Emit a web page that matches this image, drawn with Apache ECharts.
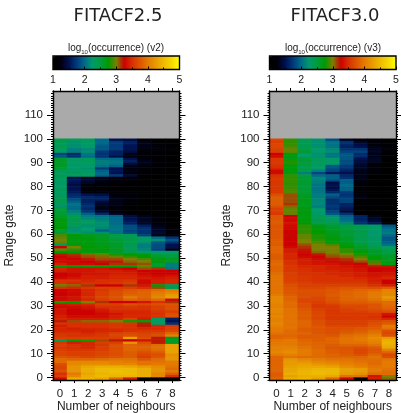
<!DOCTYPE html>
<html>
<head>
<meta charset="utf-8">
<style>html,body{margin:0;padding:0;background:#fff}#c{width:401px;height:413px}</style>
<script src="https://cdn.jsdelivr.net/npm/echarts@6/dist/echarts.min.js"></script>
</head>
<body>
<div id="c"></div>
<script>
var neighbours = ['0','1','2','3','4','5','6','7','8'];
var panelTitles = ['FITACF2.5','FITACF3.0'];
var barTags = ['(v2)','(v3)'];
var barTicks = [1,2,3,4,5];
var rangeTicks = [0,10,20,30,40,50,60,70,80,90,100,110];
/* log10(occurrence), rows from gate 99 down to the lowest row (-1) */
var fitacf25 = [
[2.45,2.35,2.35,2.0,1.5,1.45,1.2,1.1,1.05],
[2.4,2.2,2.3,2.0,1.75,1.6,1.3,1.1,1.05],
[2.35,2.2,2.3,1.95,1.75,1.55,1.3,1.15,1.05],
[2.4,2.2,2.25,1.9,1.75,1.5,1.3,1.2,1.05],
[2.35,2.1,2.15,1.9,1.75,1.5,1.25,1.2,1.05],
[2.3,2.1,2.2,1.75,1.6,1.45,1.2,1.1,1.05],
[1.8,1.65,2.05,1.7,1.6,1.3,1.2,1.1,1.05],
[1.9,1.7,2.0,1.7,1.45,1.2,1.15,1.05,1.03],
[2.6,2.3,2.35,2.0,2.0,1.5,1.25,1.1,1.05],
[2.6,2.3,2.35,2.1,2.05,1.6,1.3,1.15,1.05],
[2.6,2.3,2.3,2.1,2.05,1.45,1.3,1.15,1.05],
[2.6,2.25,2.25,2.05,1.95,1.3,1.25,1.1,1.05],
[2.55,2.25,2.2,1.75,1.5,1.25,1.1,1.05,1.03],
[2.4,2.3,2.3,1.95,1.55,1.3,1.1,1.05,1.03],
[2.3,2.4,2.3,2.0,1.5,1.25,1.15,1.05,1.03],
[2.45,2.3,2.3,1.95,1.75,1.4,1.1,1.05,1.03],
[2.3,1.5,1.35,1.3,1.2,1.15,1.05,1.03,1.02],
[2.3,1.55,1.4,1.3,1.2,1.15,1.05,1.03,1.02],
[2.3,1.5,1.35,1.25,1.15,1.1,1.05,1.02,1.02],
[2.3,1.45,1.2,1.2,1.1,1.1,1.03,1.02,1.02],
[2.3,1.5,1.2,1.15,1.1,1.05,1.03,1.02,1.02],
[2.35,1.5,1.2,1.15,1.1,1.05,1.02,1.02,1.02],
[2.3,1.55,1.25,1.2,1.15,1.1,1.03,1.02,1.02],
[2.35,1.65,1.5,1.45,1.25,1.2,1.03,1.02,1.02],
[2.35,1.7,1.65,1.6,1.25,1.25,1.03,1.02,1.02],
[2.4,1.85,1.6,1.6,1.3,1.25,1.03,1.02,1.02],
[2.4,1.95,1.6,1.4,1.3,1.15,1.03,1.02,1.02],
[2.4,2.05,1.65,1.35,1.3,1.1,1.03,1.02,1.02],
[2.2,2.0,1.7,1.3,1.25,1.1,1.03,1.02,1.02],
[2.5,2.0,1.65,1.3,1.2,1.05,1.03,1.02,1.02],
[2.55,2.1,1.7,1.35,1.2,1.05,1.03,1.02,1.02],
[2.55,2.2,1.95,1.65,1.35,1.15,1.05,1.03,1.02],
[2.6,2.4,2.1,2.05,1.95,1.45,1.3,1.15,1.03],
[2.7,2.4,2.15,2.1,2.0,1.5,1.35,1.2,1.05],
[2.7,2.4,2.3,2.15,2.0,1.55,1.35,1.2,1.05],
[2.7,2.4,2.3,2.2,2.0,1.6,1.35,1.2,1.05],
[2.7,2.35,2.2,2.2,2.05,1.85,1.6,1.3,1.1],
[2.75,2.2,2.25,2.15,2.05,1.85,1.7,1.35,1.15],
[2.55,2.2,2.25,1.95,2.05,1.8,1.7,1.35,1.2],
[2.55,2.25,2.2,2.2,2.05,1.85,1.7,1.4,1.2],
[2.9,2.75,2.65,2.6,2.45,2.4,1.8,1.3,1.15],
[2.95,2.7,2.7,2.6,2.5,2.4,2.3,2.0,1.7],
[3.0,2.7,2.7,2.65,2.55,2.45,2.3,2.2,1.9],
[2.95,2.7,2.7,2.65,2.55,2.45,2.2,1.9,1.7],
[2.4,2.7,2.7,2.65,2.6,2.4,2.1,1.85,1.5],
[3.25,3.0,2.75,2.7,2.6,2.35,2.1,1.85,1.5],
[2.95,2.85,2.7,2.7,2.6,2.4,2.15,1.8,1.3],
[2.75,2.7,2.7,2.7,2.6,2.45,2.3,2.3,2.25],
[3.2,3.15,3.05,2.95,2.8,2.75,2.7,2.5,2.45],
[3.25,3.2,3.1,3.05,2.95,2.85,2.75,2.55,2.5],
[3.3,3.25,3.2,3.1,3.1,3.0,2.9,2.7,2.6],
[3.3,3.3,3.25,3.2,3.2,3.05,3.0,2.7,2.6],
[3.4,3.3,3.3,3.25,3.15,3.15,3.1,2.55,2.1],
[2.7,2.75,2.7,2.75,2.7,2.7,2.95,2.6,2.1],
[3.45,3.35,3.35,3.35,3.3,3.25,3.1,3.15,2.05],
[3.4,3.35,3.35,3.4,3.4,3.35,3.25,3.25,3.25],
[3.25,3.3,3.35,3.35,3.4,3.4,3.3,3.25,3.25],
[3.25,3.3,3.4,3.4,3.45,3.45,3.35,3.3,3.35],
[3.3,3.35,3.4,3.4,3.45,3.45,3.4,3.35,3.4],
[3.5,3.5,3.45,3.5,3.5,3.55,3.3,3.4,3.45],
[3.5,3.45,3.5,3.5,3.55,3.6,3.3,3.4,3.45],
[2.95,3.05,3.15,3.25,3.25,3.15,3.35,2.7,2.35],
[3.5,3.45,3.55,3.6,3.6,3.6,3.5,3.1,2.4],
[3.25,3.3,3.45,3.55,3.65,3.75,3.8,3.9,4.0],
[3.25,3.3,3.45,3.6,3.7,3.8,3.85,4.0,4.1],
[3.25,3.3,3.45,3.6,3.7,3.85,3.85,4.05,4.25],
[3.3,3.35,3.5,3.65,3.75,4.0,3.85,4.1,4.3],
[3.3,3.35,3.45,3.6,3.7,3.85,3.8,3.9,3.3],
[2.8,2.75,3.0,3.15,3.25,3.25,3.35,3.5,3.15],
[3.35,3.4,3.45,3.6,3.6,3.7,3.65,3.7,3.75],
[3.3,3.3,3.35,3.5,3.5,3.55,3.5,3.6,3.7],
[3.35,3.25,3.3,3.4,3.5,3.5,3.5,3.6,3.7],
[3.35,3.25,3.25,3.35,3.45,3.45,3.45,3.55,3.6],
[3.35,3.25,3.25,3.3,3.35,3.45,3.45,3.5,3.7],
[3.4,3.3,3.3,3.3,3.4,3.45,3.45,3.5,3.7],
[3.45,3.4,3.4,3.4,3.45,3.6,3.4,2.3,1.6],
[3.2,3.1,3.05,3.05,3.0,2.8,2.7,2.3,1.5],
[3.5,3.5,3.5,3.5,3.55,3.55,3.2,2.3,1.7],
[3.4,3.5,3.5,3.5,3.55,3.5,3.2,3.45,3.55],
[3.45,3.4,3.45,3.45,3.5,3.5,3.45,3.45,3.6],
[3.45,3.45,3.4,3.45,3.45,3.5,3.55,3.55,3.65],
[3.5,3.5,3.45,3.5,3.6,3.65,3.6,3.65,3.85],
[3.55,3.5,3.5,3.55,3.65,3.7,3.65,3.7,4.05],
[3.6,3.6,3.6,3.6,3.6,4.3,3.7,3.2,2.6],
[2.35,2.7,2.8,3.1,3.2,3.25,3.35,3.2,2.6],
[3.55,3.4,3.45,3.6,3.6,4.2,3.7,3.2,2.6],
[3.6,3.5,3.45,3.55,3.7,3.85,3.8,3.9,4.3],
[3.55,3.5,3.45,3.6,3.7,3.85,3.85,3.95,4.3],
[3.6,3.55,3.55,3.6,3.7,3.85,3.8,3.9,4.3],
[3.65,3.6,3.6,3.65,3.7,3.8,3.7,3.8,4.3],
[3.65,3.6,3.6,3.65,3.7,3.8,3.65,3.7,4.15],
[3.75,3.7,3.65,3.7,3.75,3.8,3.6,3.75,4.2],
[3.9,3.85,3.85,3.9,3.95,3.95,3.75,3.9,4.2],
[3.9,4.1,4.1,4.1,4.05,4.0,3.95,3.95,4.0],
[3.7,4.1,4.15,4.15,4.1,4.1,3.95,4.0,4.0],
[3.65,4.2,4.35,4.4,4.4,4.35,4.25,4.15,3.95],
[3.65,4.2,4.4,4.5,4.5,4.5,4.4,4.2,3.9],
[3.7,4.2,4.4,4.5,4.55,4.5,4.4,4.2,4.0],
[3.5,4.0,4.35,4.45,4.5,4.5,4.4,4.1,3.8],
[3.6,4.1,4.4,4.5,4.45,4.45,4.4,4.1,3.5],
[3.3,4.4,4.45,4.35,3.9,3.4,1.1,1.1,1.1]
];
var fitacf30 = [
[3.65,2.85,2.4,2.2,1.85,1.35,1.25,1.15,1.02],
[3.6,2.85,2.4,2.2,2.05,1.7,1.35,1.2,1.02],
[3.65,2.85,2.4,2.2,2.05,1.65,1.45,1.2,1.05],
[3.65,2.9,2.4,2.2,2.05,1.6,1.5,1.3,1.15],
[3.6,2.95,2.5,2.25,2.15,1.7,1.7,1.3,1.15],
[3.6,2.95,2.55,2.25,2.2,1.8,1.8,1.35,1.15],
[3.25,2.7,2.3,2.2,2.05,1.9,1.65,1.3,1.05],
[3.3,2.7,2.25,2.2,2.05,1.9,1.65,1.3,1.05],
[3.55,2.65,2.55,2.35,2.3,1.9,1.5,1.35,1.03],
[3.55,2.8,2.55,2.35,2.3,1.85,1.45,1.35,1.03],
[3.55,2.8,2.5,2.35,2.25,1.85,1.4,1.25,1.03],
[3.5,2.7,2.45,2.3,1.9,1.75,1.35,1.25,1.02],
[3.45,2.7,2.45,2.25,1.85,1.7,1.35,1.15,1.02],
[3.3,2.7,2.45,2.1,1.8,1.6,1.3,1.15,1.02],
[3.3,2.7,2.1,1.8,1.55,1.5,1.3,1.15,1.02],
[3.5,2.85,2.5,2.0,1.95,1.65,1.3,1.05,1.02],
[3.55,2.85,2.55,2.15,1.95,1.7,1.3,1.03,1.02],
[3.55,2.85,2.55,2.1,1.85,1.95,1.25,1.03,1.02],
[3.55,2.85,2.55,2.1,1.45,1.95,1.25,1.03,1.02],
[3.55,2.85,2.55,2.05,1.5,2.0,1.2,1.03,1.02],
[3.55,2.85,2.55,2.05,1.45,1.95,1.2,1.03,1.02],
[3.55,2.9,2.55,2.05,1.55,1.95,1.05,1.02,1.02],
[3.55,2.9,2.55,2.05,1.65,1.75,1.05,1.02,1.02],
[3.7,3.1,2.6,2.1,1.95,1.7,1.25,1.02,1.02],
[3.8,3.1,2.65,2.1,1.85,1.75,1.3,1.02,1.02],
[3.8,3.1,2.65,2.15,1.7,1.8,1.15,1.02,1.02],
[3.8,3.1,2.65,2.15,1.7,1.8,1.15,1.05,1.02],
[3.8,3.15,2.65,2.15,1.7,1.6,1.1,1.05,1.02],
[3.7,3.05,2.65,2.1,1.75,1.6,1.1,1.05,1.02],
[3.6,2.95,2.7,2.25,1.7,1.55,1.1,1.02,1.02],
[3.6,2.95,2.7,2.25,1.8,1.4,1.02,1.02,1.02],
[3.55,2.95,2.7,2.25,1.9,1.7,1.02,1.02,1.02],
[3.75,3.25,2.7,2.4,2.2,1.95,1.6,1.3,1.03],
[3.75,3.3,2.7,2.4,2.25,2.0,1.6,1.35,1.03],
[3.8,3.3,2.7,2.4,2.35,2.05,1.65,1.4,1.05],
[3.8,3.35,2.75,2.45,2.4,2.15,1.7,1.55,1.05],
[3.75,3.3,2.85,2.7,2.55,2.5,2.4,2.3,1.9],
[3.75,3.3,2.85,2.7,2.6,2.5,2.4,2.3,2.0],
[3.75,3.25,2.85,2.75,2.6,2.55,2.45,2.25,2.05],
[3.75,3.25,2.85,2.75,2.65,2.55,2.45,2.25,2.1],
[3.75,3.25,2.95,2.8,2.7,2.55,2.45,2.25,2.0],
[3.75,3.25,2.95,2.8,2.7,2.6,2.4,2.3,1.9],
[3.8,3.25,3.0,2.85,2.7,2.6,2.45,2.3,1.9],
[3.8,3.25,3.0,2.9,2.7,2.65,2.4,2.3,1.95],
[3.8,3.25,3.1,3.0,2.9,2.7,2.55,2.35,2.05],
[3.85,3.3,3.15,3.0,3.0,2.75,2.6,2.4,2.25],
[3.85,3.4,3.2,3.0,3.0,2.85,2.65,2.55,2.45],
[3.85,3.4,3.3,3.05,3.0,2.85,2.75,2.6,2.45],
[3.8,3.45,3.25,3.2,3.05,3.0,2.8,2.6,2.55],
[3.8,3.45,3.3,3.25,3.1,3.05,2.9,2.7,2.6],
[3.8,3.45,3.4,3.3,3.2,3.15,3.0,2.75,2.6],
[3.85,3.5,3.4,3.35,3.3,3.2,3.1,2.85,2.65],
[3.9,3.5,3.4,3.35,3.35,3.3,3.25,3.05,2.7],
[3.85,3.55,3.45,3.45,3.4,3.35,3.3,3.2,3.2],
[3.85,3.55,3.5,3.45,3.4,3.4,3.35,3.25,3.25],
[3.85,3.55,3.5,3.45,3.45,3.4,3.35,3.25,3.3],
[3.9,3.6,3.5,3.5,3.45,3.45,3.4,3.35,3.35],
[3.95,3.6,3.55,3.5,3.5,3.45,3.4,3.35,3.4],
[3.95,3.6,3.55,3.5,3.5,3.5,3.45,3.4,3.45],
[3.95,3.6,3.55,3.5,3.5,3.5,3.5,3.4,3.25],
[3.95,3.65,3.6,3.55,3.55,3.55,3.55,3.45,3.25],
[3.95,3.7,3.6,3.6,3.6,3.6,3.6,3.5,3.4],
[3.95,3.75,3.65,3.65,3.7,3.75,3.75,3.7,3.8],
[3.95,3.75,3.7,3.7,3.75,3.8,3.85,3.9,4.05],
[3.95,3.75,3.7,3.7,3.75,3.85,3.9,4.0,4.1],
[4.0,3.8,3.7,3.7,3.8,3.85,3.9,4.0,4.1],
[4.1,3.85,3.7,3.65,3.75,3.85,3.9,4.0,4.25],
[4.1,3.85,3.65,3.65,3.75,3.85,3.85,3.95,4.1],
[4.1,3.9,3.65,3.6,3.7,3.8,3.8,3.85,3.9],
[4.05,3.9,3.7,3.55,3.6,3.7,3.7,3.75,3.9],
[4.05,3.9,3.7,3.55,3.55,3.65,3.65,3.75,3.85],
[4.1,3.95,3.75,3.6,3.55,3.6,3.65,3.7,3.8],
[4.1,3.95,3.8,3.65,3.55,3.6,3.6,3.65,3.7],
[4.05,3.95,3.8,3.65,3.55,3.55,3.55,3.55,3.35],
[4.1,3.95,3.8,3.65,3.55,3.55,3.55,3.5,3.25],
[4.05,3.95,3.8,3.65,3.55,3.55,3.55,3.55,3.45],
[4.05,3.95,3.85,3.7,3.6,3.6,3.6,3.65,3.7],
[4.1,3.95,3.85,3.7,3.6,3.6,3.6,3.7,3.8],
[4.05,3.95,3.85,3.75,3.65,3.65,3.65,3.75,4.0],
[4.0,3.95,3.8,3.75,3.7,3.7,3.75,3.8,3.95],
[4.0,3.9,3.8,3.75,3.7,3.75,3.8,3.9,3.7],
[3.95,3.9,3.85,3.75,3.7,3.8,3.85,3.95,3.65],
[3.85,3.85,3.8,3.8,3.75,3.9,3.95,4.05,3.7],
[3.85,3.9,3.8,3.8,3.85,3.95,4.0,4.15,4.25],
[3.95,4.0,3.85,3.8,3.85,3.95,4.0,4.1,4.4],
[4.0,4.0,3.9,3.85,3.85,3.95,3.95,4.05,4.45],
[4.0,4.0,3.9,3.85,3.8,3.85,3.85,3.95,4.4],
[4.05,4.05,3.95,3.85,3.75,3.75,3.7,3.8,4.35],
[4.05,4.1,4.0,3.9,3.8,3.75,3.65,3.75,4.05],
[4.1,4.15,4.0,3.9,3.8,3.75,3.65,3.75,3.85],
[4.0,4.05,4.0,3.9,3.85,3.8,3.7,3.85,3.65],
[3.85,3.95,3.9,3.9,3.85,3.85,3.85,3.95,3.7],
[3.85,4.2,4.1,4.0,3.95,3.95,3.9,3.9,3.95],
[3.85,4.25,4.2,4.1,4.05,4.0,3.95,3.9,4.0],
[3.85,4.25,4.3,4.2,4.15,4.05,4.0,3.9,4.0],
[3.85,4.3,4.35,4.35,4.3,4.15,4.05,3.95,4.0],
[3.85,4.35,4.4,4.45,4.45,4.3,4.25,4.0,3.95],
[3.85,4.35,4.45,4.5,4.5,4.3,4.25,4.0,3.9],
[3.8,4.4,4.45,4.5,4.45,4.25,4.15,3.9,3.9],
[3.8,4.3,4.4,4.4,4.35,3.95,3.95,3.35,3.0],
[3.85,4.4,4.45,4.3,3.9,3.3,1.1,3.4,3.05]
];
var colourStops = ['#000000','#00000a','#001050','#003a7a','#006a8a','#009a6a','#009c40','#009a00','#7a8000','#cc0000','#d83000','#dd5500','#e47a00','#e89a00','#eebb00','#f5d800','#ffff00'];

var FONT = '"Liberation Sans", Arial, sans-serif';
var INK = '#222';
var panels = [
  {left: 53, rows: fitacf25, cx: 118, bx: 116},
  {left: 269.5, rows: fitacf30, cx: 335, bx: 333}
];
var W = 126.5, TOP = 91, H = 289, BARTOP = 56, BARH = 13.5;

var gates = [];
for (var g = -1; g < 120; g++) gates.push(String(g));
var everyGate = [];
for (var m = -1; m <= 119; m++) everyGate.push(m);

var grids = [], xAxes = [], yAxes = [], series = [], visualMaps = [], titles = [];
var line = {show: true, onZero: false, lineStyle: {color: '#000', width: 1.4}};

panels.forEach(function (p, i) {
  var plotGrid = grids.length;
  grids.push({left: p.left, top: TOP, width: W, height: H, show: true, backgroundColor: '#aaaaaa', borderWidth: 0, outerBoundsMode: 'none'});
  var bx = xAxes.length;
  xAxes.push({gridIndex: plotGrid, type: 'category', position: 'bottom', data: neighbours, z: 10,
    axisLine: line, axisTick: {show: true, alignWithLabel: true, length: 3, lineStyle: {color: '#000'}},
    axisLabel: {show: true, interval: 0, margin: 8, fontFamily: FONT, fontSize: 11.5, color: INK},
    splitLine: {show: false}, name: 'Number of neighbours', nameLocation: 'middle', nameGap: 21, nameMoveOverlap: false,
    nameTextStyle: {fontFamily: FONT, fontSize: 12, color: INK}});
  xAxes.push({gridIndex: plotGrid, type: 'category', position: 'top', data: neighbours, z: 10,
    axisLine: line, axisTick: {show: true, alignWithLabel: true, length: 3, lineStyle: {color: '#000'}},
    axisLabel: {show: false}, splitLine: {show: false}});
  var by = yAxes.length;
  yAxes.push({gridIndex: plotGrid, type: 'category', data: gates, show: false});
  [['left', true], ['right', false]].forEach(function (s) {
    var major = {gridIndex: plotGrid, type: 'value', position: s[0], min: -1, max: 120, z: 10,
      axisLine: line, splitLine: {show: false},
      axisTick: {show: true, length: 6, customValues: rangeTicks, lineStyle: {color: '#000'}},
      axisLabel: s[1] ? {show: true, customValues: rangeTicks, margin: 10, fontFamily: FONT, fontSize: 11.5, color: INK} : {show: false}};
    if (s[1]) {
      major.name = 'Range gate'; major.nameLocation = 'middle'; major.nameGap = 37; major.nameMoveOverlap = false;
      major.nameTextStyle = {fontFamily: FONT, fontSize: 12, color: INK};
    }
    yAxes.push(major);
    yAxes.push({gridIndex: plotGrid, type: 'value', position: s[0], min: -1, max: 120, z: 10,
      axisLine: {show: false}, splitLine: {show: false}, axisLabel: {show: false},
      axisTick: {show: true, length: 2, customValues: everyGate, lineStyle: {color: '#000', width: 1}}});
  });
  var cells = [];
  var n = p.rows.length;
  p.rows.forEach(function (row, r) {
    row.forEach(function (v, c) { cells.push([c, n - 1 - r, v]); });
  });
  series.push({type: 'heatmap', xAxisIndex: bx, yAxisIndex: by, data: cells, progressive: 0,
    itemStyle: {borderWidth: 0}, emphasis: {disabled: true}, silent: true});

  visualMaps.push({type: 'continuous', min: 1, max: 5, seriesIndex: i, dimension: 2, orient: 'horizontal',
    left: p.left, top: BARTOP, itemWidth: BARH, itemHeight: W, padding: 0, text: null, calculable: false,
    realtime: false, hoverLink: false, inRange: {color: colourStops}});

  var barGrid = grids.length;
  grids.push({left: p.left, top: BARTOP, width: W, height: BARH, show: true, backgroundColor: 'transparent',
    borderColor: '#000', borderWidth: 1.4, z: 10, outerBoundsMode: 'none'});
  xAxes.push({gridIndex: barGrid, type: 'value', min: 1, max: 5, interval: 1, position: 'bottom', z: 10,
    axisLine: {show: false}, splitLine: {show: false}, minorSplitLine: {show: false},
    axisTick: {show: true, inside: true, length: 3, lineStyle: {color: '#000'}},
    minorTick: {show: true, splitNumber: 2, length: 2, lineStyle: {color: '#000'}},
    axisLabel: {show: true, margin: 5, fontFamily: FONT, fontSize: 10.5, color: INK, customValues: barTicks,
      hideOverlap: false, showMinLabel: true, showMaxLabel: true}});
  yAxes.push({gridIndex: barGrid, type: 'value', min: 0, max: 1, show: false});

  titles.push({text: panelTitles[i], left: p.cx, top: 7, textAlign: 'center', padding: 0,
    textStyle: {fontFamily: '"DejaVu Sans", sans-serif', fontSize: 18, fontWeight: 'normal', color: '#222'}});
  titles.push({text: '{a|log}{s|10}{a|(occurrence) ' + barTags[i] + '}', left: p.bx, top: 41, textAlign: 'center', padding: 0,
    textStyle: {fontWeight: 'normal', rich: {
      a: {fontFamily: FONT, fontSize: 10, fontWeight: 'normal', color: INK, verticalAlign: 'bottom', lineHeight: 12},
      s: {fontFamily: FONT, fontSize: 6, fontWeight: 'normal', color: INK, verticalAlign: 'bottom', lineHeight: 8, padding: [0, 0, -2, 0]}
    }}});
});

var chart = echarts.init(document.getElementById('c'), null, {renderer: 'canvas', width: 401, height: 413});
chart.setOption({
  animation: false,
  backgroundColor: '#ffffff',
  title: titles,
  grid: grids,
  xAxis: xAxes,
  yAxis: yAxes,
  visualMap: visualMaps,
  series: series
});
</script>
</body>
</html>
